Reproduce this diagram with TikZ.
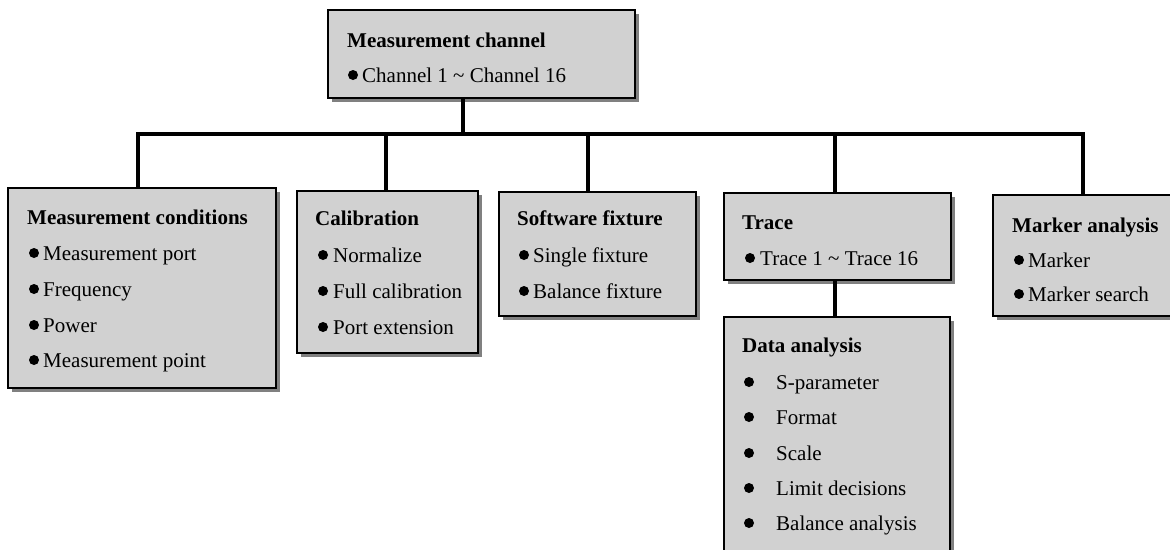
\documentclass[tikz,border=0pt]{standalone}
\usepackage{fontspec}
\setmainfont{Liberation Serif}
\usetikzlibrary{shadows}
\begin{document}
\begin{tikzpicture}[x=1pt,y=-1pt,
  box/.style={draw=black, line width=1.8pt, fill=black!18, rectangle, inner sep=0pt, anchor=north west,
    drop shadow={shadow xshift=4pt, shadow yshift=-4pt, fill=black!50, opacity=1}},
  conn/.style={line width=4pt, line join=miter},
  ttl/.style={anchor=base west, inner sep=0pt, font=\fontsize{21}{25}\selectfont\bfseries},
  itm/.style={anchor=base west, inner sep=0pt, font=\fontsize{21}{25}\selectfont},
  bul/.style={circle, fill=black, inner sep=0pt, minimum size=10pt}]
\useasboundingbox (0,0) rectangle (1170,549);
% boxes
\node[box, minimum width=307pt, minimum height=88pt] (top) at (327,9) {};
\node[box, minimum width=268pt, minimum height=200pt] (mc) at (7,187) {};
\node[box, minimum width=181pt, minimum height=162pt] (cal) at (296,190) {};
\node[box, minimum width=197pt, minimum height=124pt] (sw) at (498,191) {};
\node[box, minimum width=227pt, minimum height=87pt] (tr) at (723,192) {};
\node[box, minimum width=226pt, minimum height=250pt] (da) at (723,316) {};
\node[box, minimum width=186pt, minimum height=121pt] (mk) at (992,194) {};
% junctions
\coordinate (bL) at (138,134);
\coordinate (bR) at (1083,134);
\coordinate (j0) at (463,134);
\coordinate (jc) at (386,134);
\coordinate (js) at (588,134);
\coordinate (jt) at (835,134);
% connectors
\draw[conn] (mc.north -| bL) -- (bL) -- (bR) -- (mk.north -| bR);
\draw[conn] (top.south -| j0) -- (j0);
\draw[conn] (cal.north -| jc) -- (jc);
\draw[conn] (sw.north -| js) -- (js);
\draw[conn] (tr.north -| jt) -- (jt);
\draw[conn] (tr.south -| jt) -- (da.north -| jt);
% top box text
\node[ttl] (t0) at (347,47) {Measurement channel};
\node[bul] (b0) at (353,75) {};
\node[itm] (i0) at (362,82) {Channel 1 \textasciitilde{} Channel 16};
% measurement conditions
\node[ttl] (t1) at (27,224) {Measurement conditions};
\node[bul] (b11) at (34,253) {};
\node[itm] (i11) at (43,260) {Measurement port};
\node[bul] (b12) at (34,289) {};
\node[itm] (i12) at (43,296) {Frequency};
\node[bul] (b13) at (34,325) {};
\node[itm] (i13) at (43,332) {Power};
\node[bul] (b14) at (34,360) {};
\node[itm] (i14) at (43,367) {Measurement point};
% calibration
\node[ttl] (t2) at (315,225) {Calibration};
\node[bul] (b21) at (323,255) {};
\node[itm] (i21) at (333,262) {Normalize};
\node[bul] (b22) at (323,291) {};
\node[itm] (i22) at (333,298) {Full calibration};
\node[bul] (b23) at (323,327) {};
\node[itm] (i23) at (333,334) {Port extension};
% software fixture
\node[ttl] (t3) at (517,225) {Software fixture};
\node[bul] (b31) at (524,255) {};
\node[itm] (i31) at (533,262) {Single fixture};
\node[bul] (b32) at (524,291) {};
\node[itm] (i32) at (533,298) {Balance fixture};
% trace
\node[ttl] (t4) at (742,229) {Trace};
\node[bul] (b41) at (750,258) {};
\node[itm] (i41) at (760,265) {Trace 1 \textasciitilde{} Trace 16};
% data analysis
\node[ttl] (t5) at (742,352) {Data analysis};
\node[bul] (b51) at (749,382) {};
\node[itm] (i51) at (776,389) {S-parameter};
\node[bul] (b52) at (749,417) {};
\node[itm] (i52) at (776,424) {Format};
\node[bul] (b53) at (749,453) {};
\node[itm] (i53) at (776,460) {Scale};
\node[bul] (b54) at (749,488) {};
\node[itm] (i54) at (776,495) {Limit decisions};
\node[bul] (b55) at (749,523) {};
\node[itm] (i55) at (776,530) {Balance analysis};
% marker analysis
\node[ttl] (t6) at (1012,232) {Marker analysis};
\node[bul] (b61) at (1019,260) {};
\node[itm] (i61) at (1028,267) {Marker};
\node[bul] (b62) at (1019,294) {};
\node[itm] (i62) at (1028,301) {Marker search};
\end{tikzpicture}
\end{document}
